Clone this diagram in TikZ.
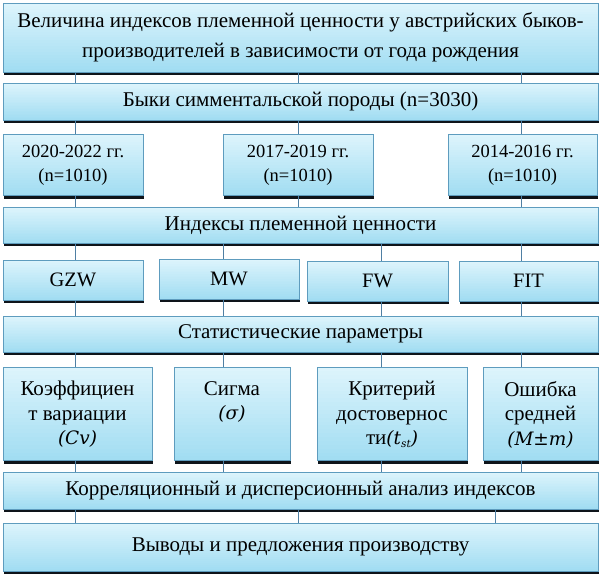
\documentclass[tikz,border=0pt]{standalone}
\usepackage{fontspec}
\setmainfont{Liberation Serif}
\newfontfamily\dvit{DejaVu Serif}[Scale=0.88]
\usetikzlibrary{calc}
\pgfdeclarelayer{background}
\pgfsetlayers{background,main}
\definecolor{boxtop}{HTML}{DDF4FC}
\definecolor{boxbot}{HTML}{A2DDF2}
\definecolor{boxline}{HTML}{5E9CBE}
\definecolor{shadowc}{HTML}{0E141A}
\definecolor{conn}{HTML}{4F7FA3}
\newcommand{\slx}[1]{{\dvit\itshape #1}}
\begin{document}
\begin{tikzpicture}[x=1pt,y=-1pt,
  blk/.style={draw=boxline, line width=0.6pt, fill=boxtop,
    inner sep=0pt, align=center, font=\fontsize{21}{24}\selectfont,
    path picture={
      \foreach \i in {0,...,23} {
        \pgfmathtruncatemacro\p{100-\i*100/23}
        \fill[boxtop!\p!boxbot]
          ($(path picture bounding box.north west)!{\i/24}!(path picture bounding box.south west)$)
          rectangle
          ($(path picture bounding box.north east)!{(\i+1.4)/24}!(path picture bounding box.south east)$);
      }
    }},
  yr/.style={font=\fontsize{18.5}{24}\selectfont},
  ix/.style={font=\fontsize{20.5}{24}\selectfont},
  txt/.style={anchor=north, align=center, inner sep=0pt, font=\fontsize{21}{24.5}\selectfont},
  conline/.style={draw=conn, line width=0.8pt}]
\useasboundingbox (0,0) rectangle (601,575);
% columns for connectors
\coordinate (xa) at (75,0);
\coordinate (xb) at (223,0);
\coordinate (xc) at (298.5,0);
\coordinate (xd) at (381,0);
\coordinate (xe) at (521,0);
\coordinate (xf) at (495,0);
% boxes
\node[blk, minimum width=595pt, minimum height=69pt, font=\fontsize{21}{30}\selectfont] (top) at (300.5,37.5)
  {Величина индексов племенной ценности у австрийских быков-\\производителей в зависимости от года рождения};
\node[blk, minimum width=595pt, minimum height=37pt] (breed) at (300.5,101.5) {Быки симментальской породы (n=3030)};
\node[blk, yr, minimum width=140pt, minimum height=61pt] (y1) at (73,165) {2020-2022 гг.\\(n=1010)};
\node[blk, yr, minimum width=150pt, minimum height=61pt] (y2) at (298,165) {2017-2019 гг.\\(n=1010)};
\node[blk, yr, minimum width=149pt, minimum height=61pt] (y3) at (522.5,165) {2014-2016 гг.\\(n=1010)};
\node[blk, minimum width=595pt, minimum height=36pt] (idx) at (300.5,225) {Индексы племенной ценности};
\node[blk, ix, minimum width=140pt, minimum height=40pt] (gzw) at (73,280) {GZW};
\node[blk, ix, minimum width=140pt, minimum height=40pt] (mw) at (229,279) {MW};
\node[blk, ix, minimum width=141pt, minimum height=40pt] (fw) at (377.5,281) {FW};
\node[blk, ix, minimum width=139pt, minimum height=40pt] (fit) at (528.5,281) {FIT};
\node[blk, minimum width=595pt, minimum height=36pt] (stat) at (300.5,334) {Статистические параметры};
\node[blk, minimum width=149pt, minimum height=93pt, anchor=north] (cv) at (77.5,367) {};
\node[blk, minimum width=116pt, minimum height=93pt, anchor=north] (sig) at (232,367) {};
\node[blk, minimum width=150pt, minimum height=93pt, anchor=north] (tst) at (392,367) {};
\node[blk, minimum width=115pt, minimum height=93pt, anchor=north] (err) at (540.5,367) {};
\node[blk, minimum width=595pt, minimum height=37pt] (corr) at (300.5,490.5) {Корреляционный и дисперсионный анализ индексов};
\node[blk, minimum width=595pt, minimum height=48pt] (fin) at (300.5,547) {Выводы и предложения производству};
% texts of the lower boxes (top aligned)
\node[txt] (cvt) at ($(cv.north)+(0,14)$) {Коэффициен\\т вариации\\\slx{(Cv)}};
\node[txt] (sigt) at ($(sig.north)+(0,14)$) {Сигма\\\slx{(σ)}};
\node[txt] (tstt) at ($(tst.north)+(0,14)$) {Критерий\\достовернос\\ти\slx{(t\raisebox{-0.3ex}{\fontsize{12}{12}\selectfont st})}};
\node[txt] (errt) at ($(err.north)+(0,14)$) {Ошибка\\средней\\\slx{(M±m)}};
\begin{pgfonlayer}{background}
% shadows under the boxes
\foreach \n in {top,breed,y1,y2,y3,idx,gzw,mw,fw,fit,stat,cv,sig,tst,err,corr,fin}
  {\fill[shadowc] ($(\n.south west)+(1,-2)$) rectangle ($(\n.south east)+(1,3)$);}
% connectors
\foreach \c in {xa,xc,xe} {\draw[conline] (top.south -| \c) -- (breed.north -| \c);}
\draw[conline] (breed.south -| xa) -- (y1.north -| xa);
\draw[conline] (breed.south -| y2.north) -- (y2.north);
\draw[conline] (breed.south -| xe) -- (y3.north -| xe);
\draw[conline] (y1.south -| xa) -- (idx.north -| xa);
\draw[conline] (y2.south) -- (idx.north -| y2.south);
\draw[conline] (y3.south -| xe) -- (idx.north -| xe);
\draw[conline] (idx.south -| xa) -- (gzw.north -| xa);
\draw[conline] (idx.south -| xb) -- (mw.north -| xb);
\draw[conline] (idx.south -| xd) -- (fw.north -| xd);
\draw[conline] (idx.south -| xe) -- (fit.north -| xe);
\draw[conline] (gzw.south -| xa) -- (stat.north -| xa);
\draw[conline] (mw.south -| xb) -- (stat.north -| xb);
\draw[conline] (fw.south -| xd) -- (stat.north -| xd);
\draw[conline] (fit.south -| xe) -- (stat.north -| xe);
\draw[conline] (stat.south -| xa) -- (cv.north -| xa);
\draw[conline] (stat.south -| xb) -- (sig.north -| xb);
\draw[conline] (stat.south -| xd) -- (tst.north -| xd);
\draw[conline] (stat.south -| xe) -- (err.north -| xe);
\draw[conline] (cv.south -| xa) -- (corr.north -| xa);
\draw[conline] (sig.south -| xb) -- (corr.north -| xb);
\draw[conline] (tst.south -| xd) -- (corr.north -| xd);
\draw[conline] (err.south -| xe) -- (corr.north -| xe);
\draw[conline] (corr.south -| xa) -- (fin.north -| xa);
\draw[conline] (corr.south -| xc) -- (fin.north -| xc);
\draw[conline] (corr.south -| xf) -- (fin.north -| xf);
\end{pgfonlayer}
\end{tikzpicture}
\end{document}
